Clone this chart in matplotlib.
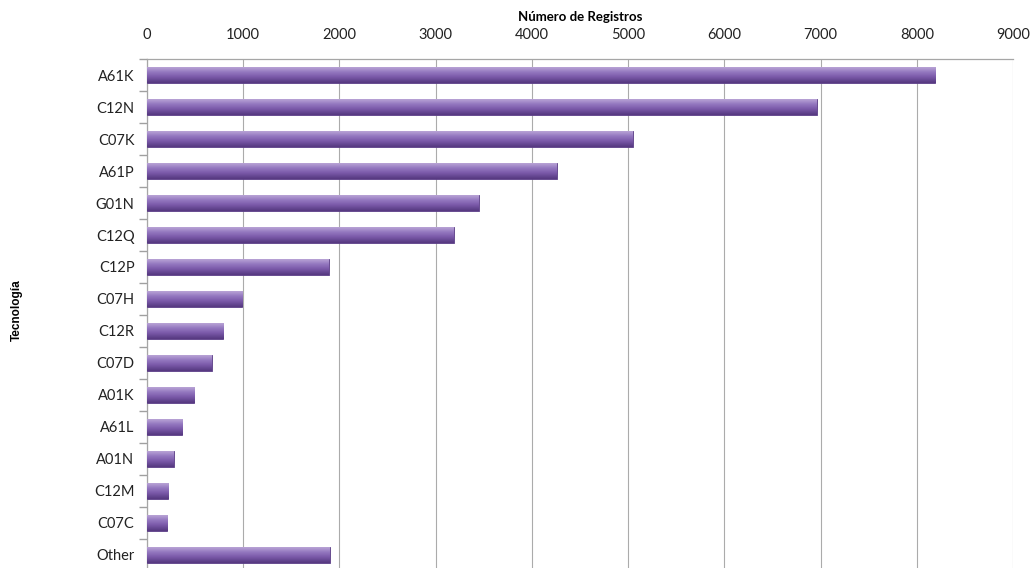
import numpy as np
import matplotlib
matplotlib.use("Agg")
import matplotlib.pyplot as plt
from matplotlib.colors import LinearSegmentedColormap

categories = ["A61K", "C12N", "C07K", "A61P", "G01N", "C12Q", "C12P", "C07H",
              "C12R", "C07D", "A01K", "A61L", "A01N", "C12M", "C07C", "Other"]
values = [8190, 6960, 5050, 4260, 3450, 3190, 1890, 990,
          790, 675, 490, 365, 280, 220, 210, 1900]
xticks = [0, 1000, 2000, 3000, 4000, 5000, 6000, 7000, 8000, 9000]

fig = plt.figure(figsize=(10.34, 5.68), dpi=100)
ax = fig.add_axes([147/1034, 0, 866/1034, 1 - 59/568])

cmap = LinearSegmentedColormap.from_list(
    "bar", [(0.0, "#b9a4d6"), (0.3, "#9579c0"), (0.6, "#7c5bab"), (1.0, "#55387f")])
grad = np.linspace(0, 1, 64).reshape(-1, 1)

h = 0.47
y = np.arange(len(categories))
bars = ax.barh(y, values, height=h, color="#7d5cac", edgecolor="#5a3d85", linewidth=0.6, zorder=3)
for b in bars:
    x0, y0 = b.get_x(), b.get_y()
    w, hh = b.get_width(), b.get_height()
    im = ax.imshow(grad, cmap=cmap, aspect="auto", extent=(x0, x0 + w, y0 + hh, y0),
                   zorder=3, interpolation="bicubic")
    im.set_clip_path(b)

ax.set_xlim(0, 9000)
ax.set_ylim(15 + 13/32, -0.5)
ax.xaxis.tick_top()
ax.xaxis.set_label_position("top")
ax.set_xticks(xticks)
ax.set_xticklabels([str(t) for t in xticks], fontsize=10.5, family="Lato")
ax.tick_params(axis="x", length=0, pad=12, colors="#222222")
ax.grid(axis="x", color="#ababab", linewidth=0.8, zorder=0)

ax.set_yticks(y)
ax.set_yticklabels(categories, fontsize=10.5, family="Lato")
ax.set_yticks(np.arange(-0.5, 15.5, 1.0), minor=True)
ax.tick_params(axis="y", which="major", length=0, pad=9, colors="#222222")
ax.tick_params(axis="y", which="minor", length=6, color="#a0a0a0", width=1.0)

for s in ["right", "bottom"]:
    ax.spines[s].set_visible(False)
for s in ["left", "top"]:
    ax.spines[s].set_color("#a6a6a6")
    ax.spines[s].set_linewidth(0.9)

ax.set_xlabel("Número de Registros", fontsize=9.5, fontweight="bold", family="Lato", labelpad=5)
fig.text(17/1034, 1 - 310/568, "Tecnología", rotation=90, ha="center", va="center",
         fontsize=8.5, fontweight="bold", family="Liberation Sans")

fig.savefig("out.png", dpi=100)
